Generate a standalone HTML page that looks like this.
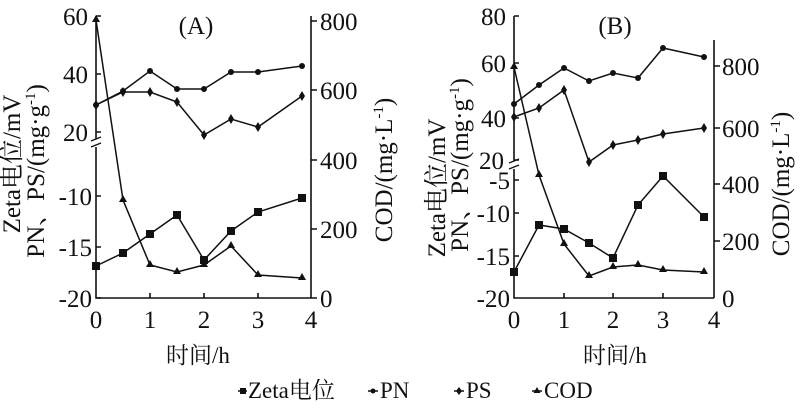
<!DOCTYPE html>
<html><head><meta charset="utf-8"><style>
body{margin:0;background:#fff}
svg{display:block}
text{font-family:"Liberation Serif","Noto Serif CJK SC",serif;fill:#111}
</style></head><body>
<svg width="809" height="410" xmlns="http://www.w3.org/2000/svg">
<g stroke="#111" stroke-width="1.6" fill="none">
<path d="M96,16 V298 H311 M311,16 V298"/>
<path d="M96,16h5 M96,74h5 M96,132h5 M96,196h5 M96,247h5 M96,298h5"/>
<path d="M311,21h6 M311,90h6 M311,160h6 M311,229h6 M311,298h6"/>
<path d="M150,298v-5 M204,298v-5 M258,298v-5"/>
<path d="M514,16 V298 H714 M714,40 V298"/>
<path d="M514,16h5 M514,63h5 M514,118h5 M514,160h5 M514,180h5 M514,213h5 M514,256h5"/>
<path d="M714,66h6 M714,128h6 M714,184h6 M714,241h6"/>
<path d="M564,298v-5 M613,298v-5 M663,298v-5"/>
</g>
<g stroke="#fff" stroke-width="5"><path d="M96,139v8 M514,161v8"/></g>
<g stroke="#111" stroke-width="1.3"><path d="M91,141l10,-4 M91,147l10,-4 M509,163l10,-4 M509,169l10,-4"/></g>
<g stroke="#111" stroke-width="1.5" fill="none">
<polyline points="96,105 123,91 150,71 177,89 204,89 231,72 258,72 302,66"/>
<polyline points="96,105 123,92 150,92 177,102 204,135 231,119 258,127 302,96"/>
<polyline points="96,266 123,253 150,234 177,215 204,260 231,231 258,212 302,198"/>
<polyline points="96,20 123,200 150,265 177,272 204,265 231,246 258,275 302,278"/>
<polyline points="514,104 539,85 564,68 589,81 613,73 638,78 663,48 704,57"/>
<polyline points="514,117 539,108 564,90 589,162 613,145 638,140 663,134 704,128"/>
<polyline points="514,272 539,225 564,229 589,243 613,258 638,205 663,176 704,217"/>
<polyline points="514,67 539,175 564,244 589,276 613,267 638,265 663,270 704,272"/>
</g>
<g fill="#111">
<g><circle cx="96" cy="105" r="3"/><circle cx="123" cy="91" r="3"/><circle cx="150" cy="71" r="3"/><circle cx="177" cy="89" r="3"/><circle cx="204" cy="89" r="3"/><circle cx="231" cy="72" r="3"/><circle cx="258" cy="72" r="3"/><circle cx="302" cy="66" r="3"/>
<circle cx="514" cy="104" r="3"/><circle cx="539" cy="85" r="3"/><circle cx="564" cy="68" r="3"/><circle cx="589" cy="81" r="3"/><circle cx="613" cy="73" r="3"/><circle cx="638" cy="78" r="3"/><circle cx="663" cy="48" r="3"/><circle cx="704" cy="57" r="3"/></g>
<g>
<path d="M96,100l3,5l-3,5l-3,-5z M123,87l3,5l-3,5l-3,-5z M150,87l3,5l-3,5l-3,-5z M177,97l3,5l-3,5l-3,-5z M204,130l3,5l-3,5l-3,-5z M231,114l3,5l-3,5l-3,-5z M258,122l3,5l-3,5l-3,-5z M302,91l3,5l-3,5l-3,-5z"/>
<path d="M514,112l3,5l-3,5l-3,-5z M539,103l3,5l-3,5l-3,-5z M564,85l3,5l-3,5l-3,-5z M589,157l3,5l-3,5l-3,-5z M613,140l3,5l-3,5l-3,-5z M638,135l3,5l-3,5l-3,-5z M663,129l3,5l-3,5l-3,-5z M704,123l3,5l-3,5l-3,-5z"/>
</g>
<g>
<rect x="92" y="262" width="8" height="8"/><rect x="119" y="249" width="8" height="8"/><rect x="146" y="230" width="8" height="8"/><rect x="173" y="211" width="8" height="8"/><rect x="200" y="256" width="8" height="8"/><rect x="227" y="227" width="8" height="8"/><rect x="254" y="208" width="8" height="8"/><rect x="298" y="194" width="8" height="8"/>
<rect x="510" y="268" width="8" height="8"/><rect x="535" y="221" width="8" height="8"/><rect x="560" y="225" width="8" height="8"/><rect x="585" y="239" width="8" height="8"/><rect x="609" y="254" width="8" height="8"/><rect x="634" y="201" width="8" height="8"/><rect x="659" y="172" width="8" height="8"/><rect x="700" y="213" width="8" height="8"/>
</g>
<g>
<path d="M96,15l4,7h-8z M123,195l4,7h-8z M150,260l4,7h-8z M177,267l4,7h-8z M204,260l4,7h-8z M231,241l4,7h-8z M258,270l4,7h-8z M302,273l4,7h-8z"/>
<path d="M514,62l4,7h-8z M539,170l4,7h-8z M564,239l4,7h-8z M589,271l4,7h-8z M613,262l4,7h-8z M638,260l4,7h-8z M663,265l4,7h-8z M704,267l4,7h-8z"/>
</g>
</g>
<g font-size="25" text-anchor="end">
<text x="88" y="25">60</text><text x="88" y="83">40</text><text x="88" y="141">20</text>
<text x="92" y="205">-10</text><text x="92" y="256">-15</text><text x="92" y="307">-20</text>
<text x="506" y="25">80</text><text x="506" y="72">60</text><text x="506" y="127">40</text><text x="504" y="169">20</text>
<text x="510" y="189">-5</text><text x="510" y="222">-10</text><text x="510" y="265">-15</text><text x="510" y="307">-20</text>
</g>
<g font-size="25">
<text x="320" y="30">800</text><text x="320" y="99">600</text><text x="320" y="169">400</text><text x="320" y="238">200</text><text x="320" y="307">0</text>
<text x="722" y="75">800</text><text x="722" y="137">600</text><text x="722" y="193">400</text><text x="722" y="250">200</text><text x="722" y="307">0</text>
</g>
<g font-size="25" text-anchor="middle">
<text x="96" y="328">0</text><text x="150" y="328">1</text><text x="204" y="328">2</text><text x="258" y="328">3</text><text x="311" y="328">4</text>
<text x="514" y="328">0</text><text x="564" y="328">1</text><text x="613" y="328">2</text><text x="663" y="328">3</text><text x="714" y="328">4</text>
<text x="196" y="34">(A)</text><text x="615" y="34">(B)</text>
</g>
<g font-size="25" text-anchor="middle">
<text transform="translate(20,164) rotate(-90)">Zeta电位/mV</text>
<text transform="translate(44,171) rotate(-90)">PN、PS/(mg·g<tspan font-size="15" dy="-9">-1</tspan><tspan dy="9">)</tspan></text>
<text transform="translate(392,170) rotate(-90)">COD/(mg·L<tspan font-size="15" dy="-9">-1</tspan><tspan dy="9">)</tspan></text>
<text transform="translate(445,188) rotate(-90)">Zeta电位/mV</text>
<text transform="translate(468,165) rotate(-90)">PN、PS/(mg·g<tspan font-size="15" dy="-9">-1</tspan><tspan dy="9">)</tspan></text>
<text transform="translate(789,184) rotate(-90)">COD/(mg·L<tspan font-size="15" dy="-9">-1</tspan><tspan dy="9">)</tspan></text>
</g>
<g font-size="23">
<text x="166" y="363">时间/h</text><text x="583" y="363">时间/h</text>
<text x="248" y="398">Zeta电位</text><text x="380" y="398">PN</text><text x="466" y="398">PS</text><text x="544" y="398">COD</text>
</g>
<g stroke="#111" stroke-width="1.5"><path d="M238,391h9 M378,391h-10 M464,391h-10 M542,391h-10"/></g>
<g fill="#111"><rect x="240" y="388" width="6" height="6"/><circle cx="373" cy="391" r="2.5"/><path d="M459,387l3,4l-3,4l-3,-4z M537,387l3.5,6h-7z"/></g>
</svg>
</body></html>
